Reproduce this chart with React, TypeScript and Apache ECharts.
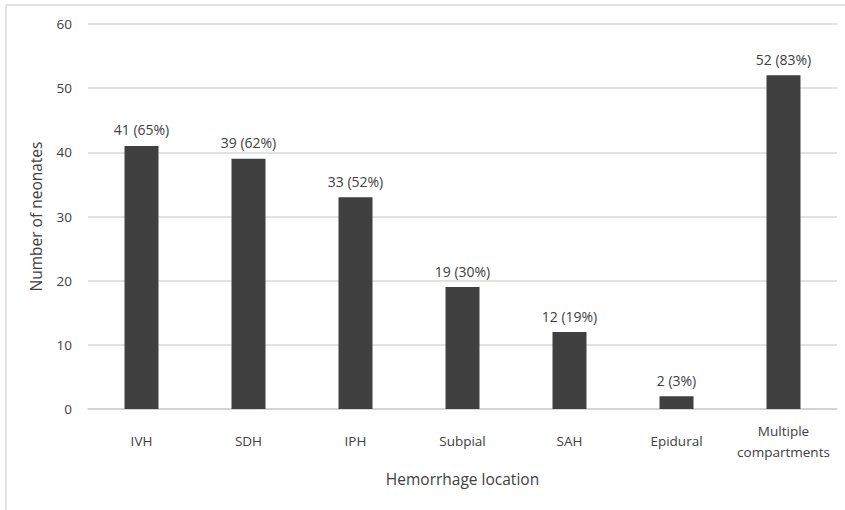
import React, { useEffect, useRef } from "react";
import * as echarts from "echarts";

const categories = ["IVH", "SDH", "IPH", "Subpial", "SAH", "Epidural", "Multiple\ncompartments"];
const counts = [41, 39, 33, 19, 12, 2, 52];
const percents = [65, 62, 52, 30, 19, 3, 83];
const yTicks = { min: 0, max: 60, interval: 10 };

export default function App() {
  const ref = useRef<HTMLDivElement>(null);
  useEffect(() => {
    if (!ref.current) return;
    const chart = echarts.init(ref.current, null, { renderer: "svg" });
    const font = "'Open Sans', 'Noto Sans', sans-serif";
    chart.setOption({
      animation: false,
      backgroundColor: "#ffffff",
      textStyle: { fontFamily: font },
      graphic: [
        {
          type: "rect",
          shape: { x: 6, y: 5, width: 860, height: 530 },
          style: { fill: "none", stroke: "#d9d9d9", lineWidth: 1.5 },
          silent: true,
        },
      ],
      grid: { left: 88, right: 8, top: 24, bottom: 101, containLabel: false },
      xAxis: {
        type: "category",
        data: categories,
        name: "Hemorrhage location",
        nameLocation: "middle",
        nameGap: 62,
        nameTextStyle: { color: "#404040", fontSize: 15.5, fontFamily: font },
        axisLine: { lineStyle: { color: "#d0d0d0", width: 1.5 } },
        axisTick: { show: false },
        axisLabel: {
          interval: 0,
          color: "#404040",
          fontSize: 13.5,
          margin: 32,
          verticalAlign: "middle",
          lineHeight: 21,
          fontFamily: font,
        },
      },
      yAxis: {
        type: "value",
        min: yTicks.min,
        max: yTicks.max,
        interval: yTicks.interval,
        name: "Number of neonates",
        nameLocation: "middle",
        nameGap: 44,
        nameTextStyle: { color: "#404040", fontSize: 15.5, fontFamily: font },
        axisLine: { show: false },
        axisTick: { show: false },
        axisLabel: { color: "#404040", fontSize: 13.5, margin: 16, fontFamily: font },
        splitLine: { lineStyle: { color: "#d9d9d9", width: 1.5 } },
      },
      series: [
        {
          type: "bar",
          data: counts,
          barWidth: 34,
          itemStyle: { color: "#404040" },
          label: {
            show: true,
            position: "top",
            distance: 9,
            color: "#404040",
            fontSize: 14,
            fontFamily: font,
            formatter: (p: any) => `${counts[p.dataIndex]} (${percents[p.dataIndex]}%)`,
          },
        },
      ],
    });
    return () => chart.dispose();
  }, []);
  return (
    <div
      ref={ref}
      style={{ position: "absolute", left: 0, top: 0, width: 845, height: 510 }}
    />
  );
}
